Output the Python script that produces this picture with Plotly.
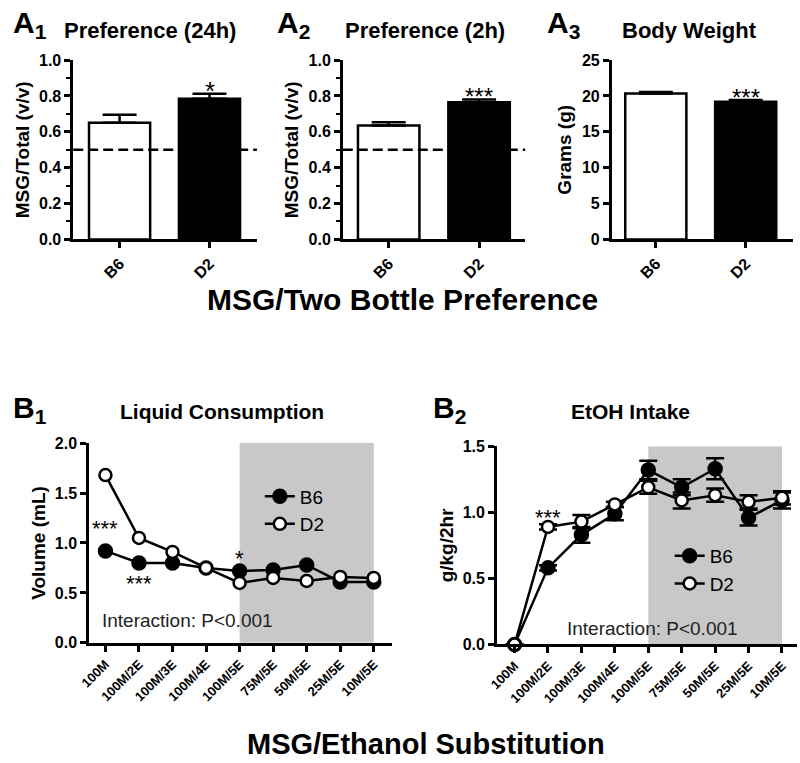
import plotly.graph_objects as go

# ---------------- data ----------------
groups = ["B6", "D2"]
pref24_vals = [0.65, 0.785]
pref24_err = [0.045, 0.028]
pref2_vals = [0.635, 0.765]
pref2_err = [0.018, 0.015]
weight_vals = [20.35, 19.2]
weight_err = [0.2, 0.25]

subst_cats = ["100M", "100M/2E", "100M/3E", "100M/4E", "100M/5E",
              "75M/5E", "50M/5E", "25M/5E", "10M/5E"]
liquid_b6 = [0.92, 0.80, 0.80, 0.75, 0.72, 0.73, 0.78, 0.61, 0.61]
liquid_d2 = [1.68, 1.05, 0.91, 0.75, 0.60, 0.65, 0.62, 0.66, 0.65]
etoh_b6 = [0.0, 0.58, 0.83, 0.99, 1.32, 1.19, 1.33, 0.96, 1.09]
etoh_b6_err = [0.0, 0.02, 0.06, 0.05, 0.07, 0.06, 0.08, 0.06, 0.06]
etoh_d2 = [0.0, 0.89, 0.93, 1.06, 1.19, 1.09, 1.13, 1.08, 1.11]
etoh_d2_err = [0.0, 0.02, 0.05, 0.02, 0.05, 0.06, 0.05, 0.05, 0.05]

W, H = 800, 763
FONT = "Liberation Sans, Arial, sans-serif"


def fx(p):
    return p / W


def fy(p):
    return 1 - p / H


fig = go.Figure()

# ---------------- A panels (bars) ----------------
bar_sets = [
    (pref24_vals, pref24_err, "x", "y"),
    (pref2_vals, pref2_err, "x2", "y2"),
    (weight_vals, weight_err, "x3", "y3"),
]
for vals, err, xa, ya in bar_sets:
    fig.add_trace(go.Bar(
        x=groups, y=vals, xaxis=xa, yaxis=ya, width=0.68,
        marker=dict(color=["white", "black"], line=dict(color="black", width=2.5)),
        error_y=dict(type="data", symmetric=False, array=err,
                     arrayminus=[0] * len(err), color="black",
                     thickness=2.5, width=17),
        showlegend=False, hoverinfo="skip"))

# ---------------- B panels (lines) ----------------
def line_trace(y, name, filled, xa, ya, legend, err=None):
    return go.Scatter(
        x=list(range(len(subst_cats))), y=y, name=name, xaxis=xa, yaxis=ya,
        mode="lines+markers", legend=legend,
        line=dict(color="black", width=2.5),
        marker=dict(size=13 if filled else 12,
                    color="black" if filled else "white",
                    line=dict(color="black", width=2.5)),
        error_y=(dict(type="data", array=err, color="black", thickness=2.5, width=9)
                 if err is not None else None),
        cliponaxis=False)


fig.add_trace(line_trace(liquid_b6, "B6", True, "x4", "y4", "legend"))
fig.add_trace(line_trace(liquid_d2, "D2", False, "x4", "y4", "legend"))
fig.add_trace(line_trace(etoh_b6, "B6", True, "x5", "y5", "legend2", etoh_b6_err))
fig.add_trace(line_trace(etoh_d2, "D2", False, "x5", "y5", "legend2", etoh_d2_err))

# ---------------- axes ----------------
axis_common = dict(showline=True, linewidth=2.5, linecolor="black", ticks="outside",
                   ticklen=6, tickwidth=2.5, tickcolor="black", showgrid=False,
                   zeroline=False, fixedrange=True)
tick_bold16 = dict(family=FONT, size=16, color="black", weight="bold")
tick_bold13 = dict(family=FONT, size=13, color="black", weight="bold")
title_bold = dict(family=FONT, size=19, color="black", weight="bold")

ya_dom = [fy(236.7), fy(53.3)]
a_x_domains = [[fx(64), fx(250)], [fx(337), fx(521.7)], [fx(609.3), fx(792.7)]]
a_ranges = [[-0.516, 1.527], [-0.508, 1.51], [-0.491, 1.524]]

layout_axes = {}
for i, (dom, rng) in enumerate(zip(a_x_domains, a_ranges), start=1):
    sfx = "" if i == 1 else str(i)
    layout_axes["xaxis" + sfx] = dict(axis_common, domain=dom, range=rng, type="category",
                                      anchor="y" + sfx, tickangle=-45, tickfont=tick_bold16)
for i in (1, 2):
    sfx = "" if i == 1 else str(i)
    layout_axes["yaxis" + sfx] = dict(axis_common, domain=ya_dom, range=[0, 1.0], dtick=0.2,
                                      tickformat=".1f", anchor="x" + sfx, tickfont=tick_bold16,
                                      minor=dict(dtick=0.1, ticks="outside", ticklen=4,
                                                 tickwidth=2, tickcolor="black"),
                                      title=dict(text="MSG/Total (v/v)", font=title_bold, standoff=5))
layout_axes["yaxis3"] = dict(axis_common, domain=ya_dom, range=[0, 25], dtick=5,
                             anchor="x3", tickfont=tick_bold16,
                             title=dict(text="Grams (g)", font=title_bold, standoff=6))

layout_axes["xaxis4"] = dict(axis_common, domain=[fx(80), fx(386.7)], range=[-0.49, 8.54],
                             anchor="y4", tickmode="array", tickvals=list(range(len(subst_cats))),
                             ticktext=subst_cats, tickangle=-45, tickfont=tick_bold13)
layout_axes["yaxis4"] = dict(axis_common, domain=[fy(649.3), fy(445)], range=[0, 2.0], dtick=0.5,
                             tickformat=".1f", anchor="x4", tickfont=tick_bold16,
                             title=dict(text="Volume (mL)", font=title_bold, standoff=5))
layout_axes["xaxis5"] = dict(axis_common, domain=[fx(493), fx(797)], range=[-0.53, 8.45],
                             anchor="y5", tickmode="array", tickvals=list(range(len(subst_cats))),
                             ticktext=subst_cats, tickangle=-45, tickfont=tick_bold13)
layout_axes["yaxis5"] = dict(axis_common, domain=[fy(651), fy(448.3)], range=[0, 1.5], dtick=0.5,
                             tickformat=".1f", anchor="x5", tickfont=tick_bold16,
                             title=dict(text="g/kg/2hr", font=title_bold, standoff=4))

# ---------------- shapes ----------------
shapes = []
for ya in ("y", "y2"):
    xa = "x" if ya == "y" else "x2"
    shapes.append(dict(type="line", xref=xa + " domain", yref=ya, x0=0, x1=1, y0=0.5, y1=0.5,
                       line=dict(color="black", width=2.5, dash="10px,5px"), layer="above"))
shapes.append(dict(type="rect", xref="x4", yref="y4", x0=4, x1=8, y0=0, y1=2.0,
                   fillcolor="#c8c8c8", line=dict(width=0), layer="below"))
shapes.append(dict(type="rect", xref="x5", yref="y5", x0=4, x1=8, y0=0, y1=1.5,
                   fillcolor="#c8c8c8", line=dict(width=0), layer="below"))

# ---------------- annotations ----------------
ann = []


def paper_text(text, x, y, size, bold=True, xanchor="center"):
    ann.append(dict(text=text, x=fx(x), y=fy(y), xref="paper", yref="paper",
                    xanchor=xanchor, yanchor="middle", showarrow=False,
                    font=dict(family=FONT, size=size, color="black",
                              weight="bold" if bold else "normal")))


def data_text(text, x, y, xa, ya, size, yshift=-5):
    ann.append(dict(text=text, x=x, y=y, xref=xa, yref=ya, xanchor="center",
                    yanchor="middle", showarrow=False, yshift=yshift,
                    font=dict(family=FONT, size=size, color="black")))


paper_text("A<sub>1</sub>", 1, 17, 30, xanchor="left")
paper_text("A<sub>2</sub>", 268, 17, 30, xanchor="left")
paper_text("A<sub>3</sub>", 542, 17, 30, xanchor="left")
paper_text("Preference (24h)", 142, 23, 22)
paper_text("Preference (2h)", 420, 23, 22)
paper_text("Body Weight", 688, 23, 22)
paper_text("MSG/Two Bottle Preference", 397, 298, 30)
paper_text("B<sub>1</sub>", 1, 411, 30, xanchor="left")
paper_text("B<sub>2</sub>", 426, 411, 30, xanchor="left")
paper_text("Liquid Consumption", 215, 413, 21)
paper_text("EtOH Intake", 628, 413, 21)
paper_text("MSG/Ethanol Substitution", 421, 753, 29)

data_text("*", "D2", 0.855, "x", "y", 26)
data_text("***", "D2", 0.826, "x2", "y2", 24)
data_text("***", "D2", 20.5, "x3", "y3", 24)
data_text("***", 0, 1.19, "x4", "y4", 22)
data_text("***", 1, 0.64, "x4", "y4", 22)
data_text("*", 4, 0.89, "x4", "y4", 22)
data_text("***", 1, 1.0, "x5", "y5", 22)
ann.append(dict(text="Interaction: P<0.001", x=2.45, y=0.22, xref="x4", yref="y4",
                showarrow=False, xanchor="center", yanchor="middle",
                font=dict(family=FONT, size=19, color="#222222")))
ann.append(dict(text="Interaction: P<0.001", x=4.12, y=0.124, xref="x5", yref="y5",
                showarrow=False, xanchor="center", yanchor="middle",
                font=dict(family=FONT, size=19, color="#222222")))

legend_style = dict(font=dict(family=FONT, size=19, color="black"), bgcolor="rgba(0,0,0,0)",
                    xanchor="left", yanchor="top", tracegroupgap=0, itemwidth=30)

fig.update_layout(
    width=W, height=H, margin=dict(l=0, r=0, t=0, b=0),
    paper_bgcolor="white", plot_bgcolor="white",
    font=dict(family=FONT, color="black"),
    bargap=0.3,
    shapes=shapes, annotations=ann,
    legend=dict(legend_style, x=fx(253), y=fy(480)),
    legend2=dict(legend_style, x=fx(668), y=fy(541)),
    **layout_axes,
)

fig.write_html("out.html",
               config={"displayModeBar": False},
               post_script="document.body.style.margin='0';"
                           "document.body.style.overflow='hidden';")
